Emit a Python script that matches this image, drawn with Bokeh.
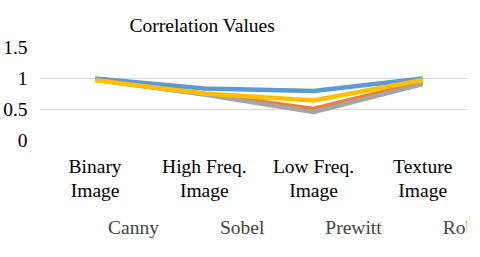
from bokeh.plotting import figure
from bokeh.layouts import column
from bokeh.models import Legend, LegendItem, FixedTicker, Title, Range1d, LinearAxis
from bokeh.embed import file_html
from bokeh.resources import INLINE

categories = ["Binary", "High Freq.", "Low Freq.", "Texture"]
category_line2 = ["Image", "Image", "Image", "Image"]
canny = [1.0, 0.84, 0.80, 1.0]
sobel = [0.98, 0.75, 0.51, 0.94]
prewitt = [0.98, 0.74, 0.46, 0.91]
roberts = [0.97, 0.76, 0.645, 0.975]
series_names = ["Canny", "Sobel", "Prewitt", "Roberts"]
colors = ["#5B9BD5", "#ED7D31", "#A5A5A5", "#FFC000"]
y_ticks = [0, 0.5, 1, 1.5]
y_tick_labels = ["0", "0.5", "1", "1.5"]

FONT = "Liberation Serif"
FS = "19.5px"

xs = list(range(len(categories)))

# main chart
p = figure(width=467, height=210,
           x_range=Range1d(-0.509, 3.41), y_range=Range1d(0, 1.5),
           output_backend="svg", toolbar_location=None,
           min_border_left=36, min_border_right=0, min_border_top=41, min_border_bottom=70)
p.title = Title(text="Correlation Values", text_font=FONT, text_font_size=FS,
                text_font_style="normal", text_color="#000000", align="left",
                offset=90, standoff=24)

for name, vals, col in zip(series_names, [canny, sobel, prewitt, roberts], colors):
    p.line(xs, vals, line_color=col, line_width=4.5, line_join="round")

p.outline_line_color = None
p.xgrid.grid_line_color = None
p.ygrid.grid_line_color = "#D9D9D9"
p.ygrid.grid_line_width = 1
p.yaxis.ticker = FixedTicker(ticks=y_ticks)
p.yaxis.major_label_overrides = dict(zip(y_ticks, y_tick_labels))
p.xaxis.ticker = FixedTicker(ticks=xs)
p.xaxis.major_label_overrides = dict(zip(xs, categories))

x2 = LinearAxis(ticker=FixedTicker(ticks=xs),
                major_label_overrides=dict(zip(xs, category_line2)))
p.add_layout(x2, "below")

for ax in (p.xaxis[0], x2, p.yaxis[0]):
    ax.axis_line_color = None
    ax.major_tick_line_color = None
    ax.minor_tick_line_color = None
    ax.major_tick_out = 0
    ax.major_tick_in = 0
    ax.minor_tick_out = 0
    ax.minor_tick_in = 0
    ax.axis_label_standoff = 0
    ax.major_label_text_font = FONT
    ax.major_label_text_font_size = FS
    ax.major_label_text_color = "#000000"
p.yaxis.major_label_standoff = 12
p.xaxis[0].major_label_standoff = 15
x2.major_label_standoff = 0

# legend strip
p2 = figure(width=467, height=31, output_backend="svg", toolbar_location=None,
            x_axis_location=None, y_axis_location=None,
            min_border_left=0, min_border_right=0, min_border_top=0, min_border_bottom=0)
p2.outline_line_color = None
p2.grid.visible = False
items = []
for name, col in zip(series_names, colors):
    r = p2.line(x=[], y=[], line_color=col, line_width=4.5)
    items.append(LegendItem(label=name, renderers=[r]))

legend = Legend(items=items, orientation="horizontal", location=(24, 2),
                label_text_font=FONT, label_text_font_size=FS,
                glyph_width=40, glyph_height=20, label_standoff=5, spacing=16,
                border_line_color=None, background_fill_alpha=0, margin=0, padding=0)
p2.add_layout(legend, "center")

layout = column(p, p2, spacing=0)
open("out.html", "w").write(file_html(layout, INLINE))
